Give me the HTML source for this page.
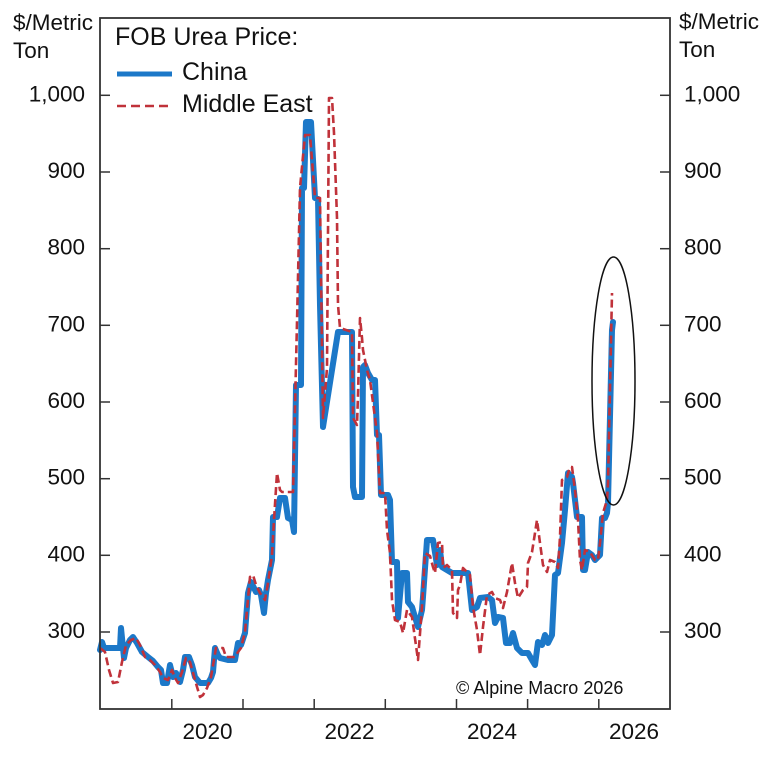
<!DOCTYPE html>
<html>
<head>
<meta charset="utf-8">
<style>
html,body{margin:0;padding:0;background:#fff;}
svg{display:block;}
text{font-family:"Liberation Sans",Arial,sans-serif;fill:#111;}
</style>
</head>
<body>
<svg width="768" height="759" viewBox="0 0 768 759" xmlns="http://www.w3.org/2000/svg">
<rect x="0" y="0" width="768" height="759" fill="#fff"/>

<!-- series -->
<path fill="none" stroke="#1c78c8" stroke-width="6" stroke-linejoin="round" stroke-linecap="round"
d="M100,650 L102,642 L104,648 L120,648 L121,628 L123,648 L124,658 L126,648 L130,640 L133,637 L137,643 L142,652 L148,657 L153,661 L158,667 L161,670 L163,683 L167,683 L170,665 L173,677 L176,673 L180,682 L183,670 L185,657 L189,657 L192,665 L195,677 L200,683 L208,683 L211,678 L213,672 L215,648 L218,655 L220,658 L228,660 L235,660 L238,643 L241,645 L245,633 L248,593 L251,582 L256,592 L259,590 L261,595 L264,613 L266,593 L268,580 L272,560 L273,517 L277,517 L280,498 L285,498 L288,518 L292,520 L294,532 L296,385 L301,385 L302,188 L304,188 L306,122 L311,122 L315,198 L318,199 L320,305 L323,427 L338,332 L352,332 L353,487 L355,497 L362,497 L363,367 L365,365 L368,373 L372,380 L375,380 L377,435 L379,435 L381,495 L388,495 L390,500 L392,562 L397,562 L398,618 L402,573 L407,573 L408,602 L412,607 L415,617 L418,627 L422,610 L423,597 L427,540 L433,540 L437,565 L440,550 L442,567 L447,570 L452,573 L468,573 L472,610 L477,607 L480,598 L488,597 L492,600 L495,623 L498,617 L503,618 L506,643 L510,643 L513,633 L517,648 L522,653 L528,653 L532,660 L535,665 L538,642 L542,645 L545,635 L548,643 L552,635 L555,575 L558,573 L562,543 L565,510 L568,473 L572,477 L573,483 L577,517 L582,517 L583,570 L585,570 L588,552 L592,555 L595,560 L600,555 L602,518 L605,518 L607,513 L608,503 L612,330 L613,322"/>

<path fill="none" stroke="#c0323a" stroke-width="2.6" stroke-dasharray="8,4" stroke-linejoin="round"
d="M100,648 L105,652 L109,670 L113,683 L118,682 L122,662 L126,645 L131,640 L136,638 L140,645 L145,657 L150,660 L155,665 L160,672 L163,678 L168,680 L172,670 L175,678 L178,683 L182,672 L186,658 L190,662 L195,680 L200,697 L203,695 L207,688 L211,677 L216,648 L223,648 L226,657 L235,657 L238,652 L241,648 L245,632 L250,577 L253,575 L256,585 L260,593 L265,600 L268,583 L272,555 L274,520 L277,473 L280,490 L282,492 L293,492 L297,322 L300,188 L305,135 L310,135 L315,198 L320,198 L323,418 L327,368 L329,98 L332,98 L334,133 L337,218 L338,305 L340,328 L352,332 L353,418 L357,425 L358,395 L360,318 L362,338 L363,350 L367,370 L370,380 L377,433 L380,493 L385,493 L387,530 L390,553 L392,600 L395,620 L400,622 L403,633 L407,610 L412,617 L418,660 L422,607 L425,553 L430,556 L433,567 L435,573 L438,543 L442,542 L443,568 L447,565 L452,570 L453,613 L457,618 L458,590 L460,585 L463,568 L470,575 L473,607 L477,630 L480,655 L483,627 L487,595 L492,592 L495,598 L500,600 L503,608 L507,592 L512,563 L515,583 L518,598 L523,590 L527,587 L528,563 L532,552 L535,533 L537,520 L540,543 L543,565 L547,572 L550,560 L555,562 L558,568 L560,537 L562,480 L567,477 L570,467 L572,467 L575,490 L578,520 L580,560 L582,570 L585,550 L590,552 L595,560 L598,560 L600,543 L602,523 L603,513 L607,500 L608,483 L612,293"/>

<!-- ellipse -->
<ellipse cx="613.5" cy="381" rx="21.5" ry="124" fill="none" stroke="#111" stroke-width="1.5"/>

<!-- frame -->
<rect x="100" y="18" width="570" height="691" fill="none" stroke="#333" stroke-width="1.8"/>

<!-- y ticks -->
<g stroke="#333" stroke-width="1.5">
<line x1="100" y1="632" x2="110" y2="632"/><line x1="660" y1="632" x2="670" y2="632"/>
<line x1="100" y1="555.3" x2="110" y2="555.3"/><line x1="660" y1="555.3" x2="670" y2="555.3"/>
<line x1="100" y1="478.7" x2="110" y2="478.7"/><line x1="660" y1="478.7" x2="670" y2="478.7"/>
<line x1="100" y1="402" x2="110" y2="402"/><line x1="660" y1="402" x2="670" y2="402"/>
<line x1="100" y1="325.3" x2="110" y2="325.3"/><line x1="660" y1="325.3" x2="670" y2="325.3"/>
<line x1="100" y1="248.7" x2="110" y2="248.7"/><line x1="660" y1="248.7" x2="670" y2="248.7"/>
<line x1="100" y1="172" x2="110" y2="172"/><line x1="660" y1="172" x2="670" y2="172"/>
<line x1="100" y1="95.3" x2="110" y2="95.3"/><line x1="660" y1="95.3" x2="670" y2="95.3"/>
<!-- x ticks -->
<line x1="171.8" y1="699" x2="171.8" y2="709"/>
<line x1="243" y1="699" x2="243" y2="709"/>
<line x1="314.2" y1="699" x2="314.2" y2="709"/>
<line x1="385.3" y1="699" x2="385.3" y2="709"/>
<line x1="456.5" y1="699" x2="456.5" y2="709"/>
<line x1="527.6" y1="699" x2="527.6" y2="709"/>
<line x1="598.8" y1="699" x2="598.8" y2="709"/>
</g>

<!-- left labels -->
<g font-size="22.5" text-anchor="end">
<text x="85" y="638">300</text>
<text x="85" y="561.3">400</text>
<text x="85" y="484.7">500</text>
<text x="85" y="408">600</text>
<text x="85" y="331.3">700</text>
<text x="85" y="254.7">800</text>
<text x="85" y="178">900</text>
<text x="85" y="101.3">1,000</text>
</g>
<!-- right labels -->
<g font-size="22.5" text-anchor="start">
<text x="684" y="638">300</text>
<text x="684" y="561.3">400</text>
<text x="684" y="484.7">500</text>
<text x="684" y="408">600</text>
<text x="684" y="331.3">700</text>
<text x="684" y="254.7">800</text>
<text x="684" y="178">900</text>
<text x="684" y="101.3">1,000</text>
</g>
<!-- units -->
<g font-size="22.5">
<text x="13" y="30">$/Metric</text>
<text x="13" y="58">Ton</text>
<text x="679" y="29">$/Metric</text>
<text x="679" y="57">Ton</text>
</g>
<!-- x labels -->
<g font-size="22.5" text-anchor="middle">
<text x="207.5" y="739">2020</text>
<text x="349.5" y="739">2022</text>
<text x="492" y="739">2024</text>
<text x="634" y="739">2026</text>
</g>

<!-- legend -->
<text x="115" y="45" font-size="25">FOB Urea Price:</text>
<line x1="117" y1="74" x2="172" y2="74" stroke="#1c78c8" stroke-width="5"/>
<text x="182" y="80" font-size="25">China</text>
<line x1="117" y1="106" x2="172" y2="106" stroke="#c0323a" stroke-width="2.6" stroke-dasharray="9,5"/>
<text x="182" y="112" font-size="25">Middle East</text>

<!-- copyright -->
<text x="456" y="694" font-size="18">© Alpine Macro 2026</text>
</svg>
</body>
</html>
